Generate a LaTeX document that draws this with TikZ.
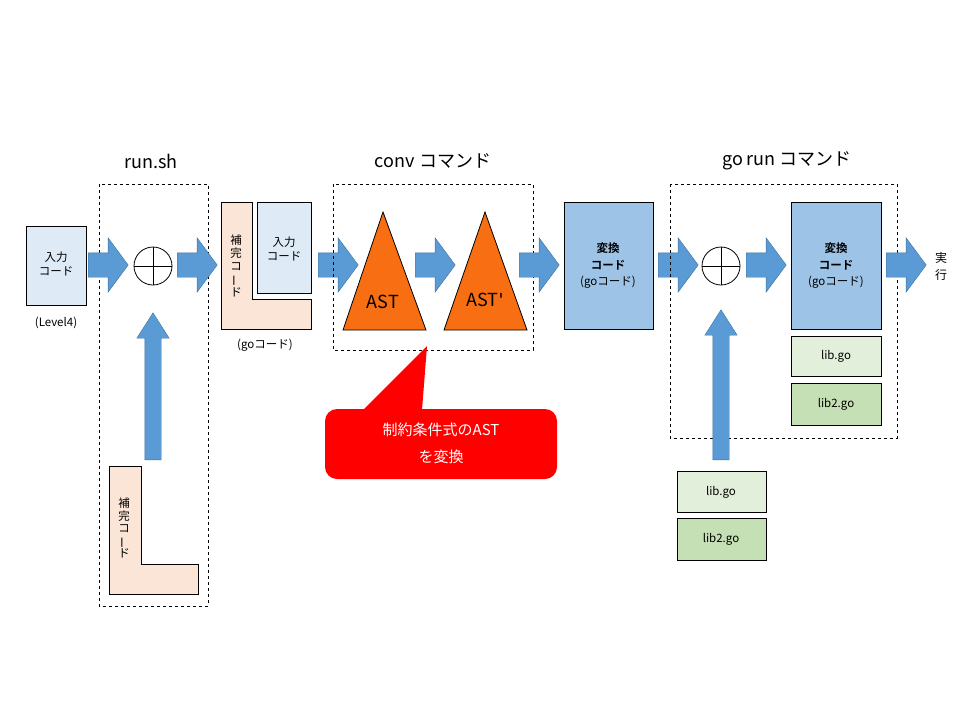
\documentclass[tikz,border=0pt]{standalone}
\usepackage{fontspec}
\setmainfont{Noto Sans CJK JP}[BoldFont={Noto Sans CJK JP Bold}]
\newfontfamily\latinfont{DejaVu Sans}
\usetikzlibrary{shapes.arrows}

\definecolor{arrowblue}{HTML}{5B9BD5}
\definecolor{arrowedge}{HTML}{41719C}
\definecolor{inblue}{HTML}{DEEBF7}
\definecolor{peach}{HTML}{FBE5D6}
\definecolor{convblue}{HTML}{9DC3E6}
\definecolor{libgreen}{HTML}{E2EFDA}
\definecolor{libtwogreen}{HTML}{C5E0B4}
\definecolor{astorange}{HTML}{F86E12}

\tikzset{
	fatarrow/.style={single arrow, draw=arrowedge, fill=arrowblue, anchor=tail,
		inner xsep=0pt, inner ysep=12pt, minimum height=40pt,
		single arrow head extend=15pt, single arrow tip angle=107},
	uparrow/.style={single arrow, draw=arrowedge, fill=arrowblue, anchor=tail,
		shape border rotate=90, inner xsep=8pt, inner ysep=0pt,
		single arrow head extend=8pt, single arrow tip angle=65},
	plus/.style={circle, draw, thick, minimum size=38pt, inner sep=0pt,
		path picture={\draw (path picture bounding box.north) -- (path picture bounding box.south)
			(path picture bounding box.west) -- (path picture bounding box.east);}},
	codebox/.style={draw, thick, font=\fontsize{11}{16}\selectfont, align=center},
	title/.style={font=\fontsize{18}{20}\selectfont},
	small/.style={font=\fontsize{11.5}{14}\selectfont},
	group/.style={dashed, thin}
}

\begin{document}
\begin{tikzpicture}[x=1pt, y=-1pt]
	\useasboundingbox (0,0) rectangle (960,720);
	
	% run.sh
	\draw[group] (99,184) rectangle (208,606);
	\node[title] (t1) at (151,161) {run.sh};
	\draw[codebox, fill=inblue] (26,226) rectangle (86,305);
	\node[small, align=center] (in1) at (56,264) {入力\\コード};
	\node[small] (lv) at (56,323) {(Level4)};
	\node[fatarrow] (a1) at (88,265) {};
	\node[plus] (p1) at (153,266) {};
	\node[fatarrow] (a2) at (177,265) {};
	\node[uparrow, minimum height=147pt] (u1) at (153,460) {};
	\draw[thick, fill=peach] (109,466) -- (141,466) -- (141,564) -- (198,564) -- (198,594) -- (109,594) -- cycle;
	\node[small, align=center, font=\fontsize{11.5}{12.5}\selectfont] (h1) at (124,528) {補\\完\\コ\\\rotatebox[origin=c]{90}{ー}\\ド};
	
	% merged code
	\draw[thick, fill=peach] (221,202) -- (252,202) -- (252,299) -- (311,299) -- (311,329) -- (221,329) -- cycle;
	\draw[codebox, fill=inblue] (257,202) rectangle (311,293);
	\node[small, align=center] (in2) at (284,249) {入力\\コード};
	\node[small, align=center, font=\fontsize{11.5}{13}\selectfont] (h2) at (236,266) {補\\完\\コ\\\rotatebox[origin=c]{90}{ー}\\ド};
	\node[small] (gc) at (265,345) {(goコード)};
	\node[fatarrow] (a3) at (318,265) {};
	
	% conv
	\draw[group] (333,184) rectangle (533,350);
	\node[title] (t2) at (433,161) {conv コマンド};
	\draw[thick, fill=astorange] (383,212) -- (426,330) -- (343,330) -- cycle;
	\node[font=\fontsize{18}{20}\selectfont] (ast) at (383,302) {AST};
	\node[fatarrow] (a4) at (415,265) {};
	\draw[thick, fill=astorange] (485,212) -- (527,330) -- (444,330) -- cycle;
	\node[font=\fontsize{18}{20}\selectfont] (ast2) at (485,300) {AST{\latinfont\char39}};
	\node[fatarrow] (a5) at (519,265) {};
	
	% callout
	\fill[red, rounded corners=12pt] (325,409) rectangle (557,479);
	\fill[red] (363,410) -- (427,346) -- (422,410) -- cycle;
	\node[text=white, align=center, font=\fontsize{15}{27}\selectfont] (note) at (441,443) {制約条件式のAST\\を変換};
	
	% converted code
	\draw[codebox, fill=convblue] (564,202) rectangle (653,329);
	\node[small, align=center, font=\fontsize{11.5}{16.5}\selectfont] (cv1) at (608,266) {\textbf{変換}\\\textbf{コード}\\(goコード)};
	\node[fatarrow] (a6) at (658,265) {};
	
	% go run
	\draw[group] (670,184) rectangle (897,438);
	\node[title] (t3) at (787,161) {go run コマンド};
	\node[plus] (p2) at (721,266) {};
	\node[fatarrow] (a7) at (746,265) {};
	\draw[codebox, fill=convblue] (791,202) rectangle (881,329);
	\node[small, align=center, font=\fontsize{11.5}{16.5}\selectfont] (cv2) at (836,266) {\textbf{変換}\\\textbf{コード}\\(goコード)};
	\draw[codebox, fill=libgreen] (791,336) rectangle (881,376);
	\node[small] (lib1) at (836,356) {lib.go};
	\draw[codebox, fill=libtwogreen] (791,383) rectangle (881,425);
	\node[small] (lib2) at (836,404) {lib2.go};
	\node[fatarrow] (a8) at (886,265) {};
	\node[small, align=center, font=\fontsize{12}{17}\selectfont] (run) at (941,266) {実\\行};
	
	% libs
	\node[uparrow, minimum height=150pt] (u2) at (721,460) {};
	\draw[codebox, fill=libgreen] (677,471) rectangle (766,512);
	\node[small] (lib3) at (721,492) {lib.go};
	\draw[codebox, fill=libtwogreen] (677,518) rectangle (766,560);
	\node[small] (lib4) at (721,539) {lib2.go};
\end{tikzpicture}
\end{document}
